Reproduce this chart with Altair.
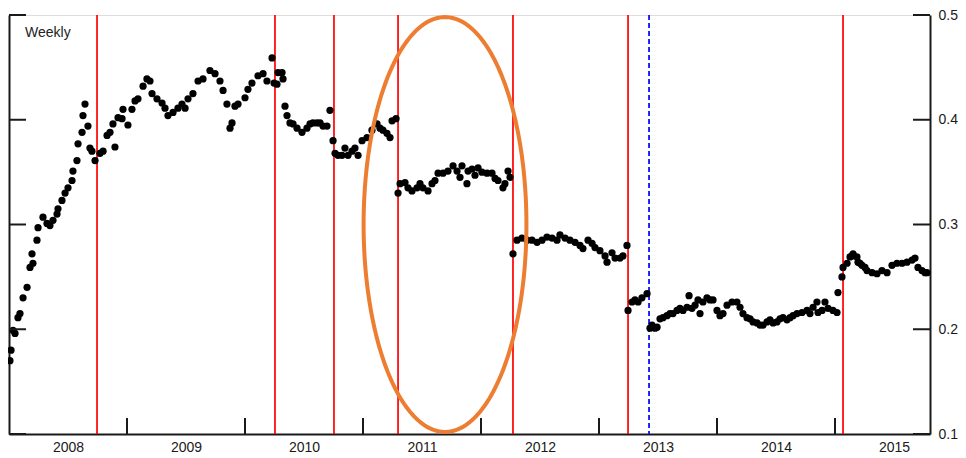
import altair as alt
import numpy as np
import pandas as pd

# ---- data (decimal year, value) ----
years = [
    2008.008, 2008.017, 2008.034, 2008.051, 2008.076, 2008.093, 2008.119, 2008.153, 2008.178, 2008.195,
    2008.203, 2008.237, 2008.246, 2008.288, 2008.322, 2008.347, 2008.373, 2008.407, 2008.415, 2008.449,
    2008.475, 2008.500, 2008.534, 2008.542, 2008.576, 2008.585, 2008.619, 2008.627, 2008.644, 2008.669,
    2008.686, 2008.703, 2008.729,
    2008.771, 2008.797, 2008.831, 2008.856, 2008.881, 2008.898, 2008.924, 2008.958, 2008.966, 2009.008,
    2009.042, 2009.068, 2009.093, 2009.136, 2009.169, 2009.195, 2009.212, 2009.254, 2009.297, 2009.322,
    2009.347, 2009.390, 2009.432, 2009.466, 2009.492, 2009.517, 2009.559, 2009.602, 2009.644, 2009.703,
    2009.746, 2009.788, 2009.814, 2009.847, 2009.873, 2009.890, 2009.915, 2009.941, 2010.000, 2010.025,
    2010.059, 2010.110, 2010.153, 2010.186, 2010.229, 2010.246,
    2010.271, 2010.280, 2010.314, 2010.322, 2010.339, 2010.356, 2010.381, 2010.407, 2010.441, 2010.483,
    2010.525, 2010.551, 2010.576, 2010.610, 2010.636, 2010.661, 2010.695, 2010.720,
    2010.746, 2010.763, 2010.788, 2010.822, 2010.847, 2010.873, 2010.907, 2010.932, 2010.958, 2010.992,
    2011.034, 2011.076, 2011.119, 2011.144, 2011.169, 2011.203, 2011.229, 2011.246, 2011.280,
    2011.297, 2011.314, 2011.356, 2011.381, 2011.415, 2011.458, 2011.483, 2011.508, 2011.551, 2011.585,
    2011.610, 2011.636, 2011.678, 2011.720, 2011.763, 2011.797, 2011.822, 2011.839, 2011.881, 2011.890,
    2011.924, 2011.949, 2011.975, 2012.008, 2012.051, 2012.093, 2012.119, 2012.144, 2012.186, 2012.203,
    2012.229, 2012.246,
    2012.271, 2012.305, 2012.347, 2012.390, 2012.432, 2012.475, 2012.517, 2012.559, 2012.602, 2012.644,
    2012.669, 2012.712, 2012.754, 2012.797, 2012.839, 2012.864, 2012.907, 2012.941, 2012.966, 2013.008,
    2013.051, 2013.068, 2013.110, 2013.136, 2013.178, 2013.203, 2013.237,
    2013.246, 2013.280, 2013.305, 2013.331, 2013.364, 2013.407,
    2013.432, 2013.449, 2013.475, 2013.492, 2013.517, 2013.542, 2013.576, 2013.602, 2013.627, 2013.661,
    2013.686, 2013.712, 2013.746, 2013.763, 2013.788, 2013.814, 2013.839, 2013.856, 2013.881, 2013.915,
    2013.941, 2013.966, 2014.000, 2014.025, 2014.051, 2014.085, 2014.127, 2014.169, 2014.195, 2014.220,
    2014.254, 2014.280, 2014.305, 2014.339, 2014.364, 2014.390, 2014.424, 2014.449, 2014.475, 2014.508,
    2014.534, 2014.559, 2014.593, 2014.619, 2014.644, 2014.678, 2014.720, 2014.763, 2014.788, 2014.814,
    2014.847, 2014.856, 2014.890, 2014.915, 2014.941, 2014.983, 2015.017, 2015.025,
    2015.059, 2015.068, 2015.102, 2015.127, 2015.144, 2015.153, 2015.186, 2015.195, 2015.212, 2015.229,
    2015.254, 2015.271, 2015.314, 2015.356, 2015.398, 2015.441, 2015.483, 2015.525, 2015.568, 2015.610,
    2015.653, 2015.678, 2015.703, 2015.737, 2015.763, 2015.780,
]
values = [
    0.170, 0.180, 0.199, 0.196, 0.211, 0.215, 0.230, 0.240, 0.259, 0.272,
    0.263, 0.285, 0.297, 0.307, 0.301, 0.299, 0.304, 0.310, 0.315, 0.323,
    0.330, 0.335, 0.342, 0.351, 0.361, 0.377, 0.388, 0.404, 0.415, 0.394,
    0.373, 0.370, 0.361,
    0.368, 0.370, 0.385, 0.388, 0.396, 0.374, 0.402, 0.401, 0.410, 0.395,
    0.410, 0.418, 0.420, 0.432, 0.439, 0.437, 0.425, 0.420, 0.416, 0.411,
    0.404, 0.407, 0.411, 0.415, 0.411, 0.420, 0.425, 0.437, 0.439, 0.447,
    0.444, 0.437, 0.428, 0.415, 0.392, 0.397, 0.413, 0.415, 0.421, 0.429,
    0.435, 0.442, 0.444, 0.437, 0.459, 0.435,
    0.434, 0.445, 0.445, 0.439, 0.413, 0.404, 0.397, 0.396, 0.392, 0.388,
    0.392, 0.396, 0.397, 0.397, 0.397, 0.394, 0.394, 0.409,
    0.380, 0.368, 0.366, 0.366, 0.373, 0.366, 0.370, 0.373, 0.366, 0.380,
    0.383, 0.390, 0.396, 0.392, 0.390, 0.387, 0.383, 0.399, 0.401,
    0.330, 0.339, 0.340, 0.335, 0.332, 0.335, 0.339, 0.335, 0.332, 0.339,
    0.342, 0.349, 0.349, 0.351, 0.356, 0.351, 0.345, 0.356, 0.339, 0.351,
    0.353, 0.347, 0.354, 0.350, 0.349, 0.349, 0.344, 0.342, 0.335, 0.339,
    0.351, 0.345,
    0.272, 0.285, 0.287, 0.285, 0.285, 0.283, 0.285, 0.288, 0.287, 0.285,
    0.290, 0.287, 0.285, 0.283, 0.280, 0.277, 0.285, 0.282, 0.278, 0.275,
    0.270, 0.264, 0.273, 0.268, 0.268, 0.270, 0.280,
    0.218, 0.226, 0.228, 0.226, 0.230, 0.234,
    0.201, 0.204, 0.201, 0.202, 0.210, 0.211, 0.213, 0.215, 0.215, 0.218,
    0.220, 0.218, 0.221, 0.232, 0.220, 0.223, 0.228, 0.215, 0.226, 0.230,
    0.228, 0.228, 0.218, 0.213, 0.215, 0.223, 0.226, 0.226, 0.221, 0.215,
    0.211, 0.210, 0.207, 0.206, 0.204, 0.204, 0.207, 0.209, 0.206, 0.207,
    0.210, 0.211, 0.209, 0.211, 0.213, 0.215, 0.216, 0.218, 0.215, 0.221,
    0.226, 0.216, 0.218, 0.226, 0.220, 0.218, 0.216, 0.235,
    0.250, 0.259, 0.263, 0.269, 0.270, 0.272, 0.269, 0.264, 0.263, 0.261,
    0.259, 0.256, 0.254, 0.253, 0.256, 0.254, 0.261, 0.263, 0.263, 0.264,
    0.266, 0.268, 0.259, 0.256, 0.254, 0.254,
]

red_breaks = [2008.746, 2010.254, 2010.754, 2011.297, 2012.271, 2013.246, 2015.068]
blue_breaks = [2013.424]
year_ticks = [2009, 2010, 2011, 2012, 2013, 2014, 2015]
year_label_pos = [2008.5, 2009.5, 2010.5, 2011.5, 2012.5, 2013.5, 2014.5, 2015.5]
y_ticks = [0.1, 0.2, 0.3, 0.4, 0.5]
panel_label = "Weekly"

# ellipse highlight (centre and radii in data units)
ell_cx, ell_cy, ell_rx, ell_ry = 2011.695, 0.300, 0.69, 0.198

X_DOMAIN = [2008.0, 2015.805]
Y_DOMAIN = [0.1, 0.5]
FONT = "Liberation Sans"
INK = "#1a1a1a"
W, H = 921, 419

df = pd.DataFrame({"year": years, "value": values})
t = np.linspace(0, 2 * np.pi, 241)
ell = pd.DataFrame({"year": ell_cx + ell_rx * np.cos(t), "value": ell_cy + ell_ry * np.sin(t), "i": np.arange(len(t))})

xs = alt.Scale(domain=X_DOMAIN, nice=False, zero=False)
ys = alt.Scale(domain=Y_DOMAIN, nice=False, zero=False)

x_axis = alt.Axis(values=year_label_pos, labelExpr="floor(datum.value)", ticks=False, tickSize=0,
                  grid=False, domain=True, domainColor=INK, domainWidth=2, labelFont=FONT,
                  labelFontSize=14, labelColor=INK, labelPadding=6, title=None)

left_axis = alt.Axis(orient="left", values=y_ticks, labels=False, ticks=False, tickSize=0, grid=False,
                     domain=True, domainColor=INK, domainWidth=2, title=None)
right_axis = alt.Axis(orient="right", values=y_ticks, format=".1f", ticks=False, tickSize=0, grid=False,
                      domain=True, domainColor=INK, domainWidth=2, labelFont=FONT, labelFontSize=14,
                      labelColor=INK, labelPadding=8, title=None)

X = alt.X("year:Q", scale=xs, axis=x_axis)

base_left = alt.Chart(df).mark_circle(size=0, opacity=0).encode(
    x=X,
    y=alt.Y("value:Q", scale=ys, axis=left_axis),
)

red = alt.Chart(pd.DataFrame({"year": red_breaks})).mark_rule(color="#ff0000", strokeWidth=1.7).encode(x=X)
blue = alt.Chart(pd.DataFrame({"year": blue_breaks})).mark_rule(
    color="#0000ff", strokeWidth=1.7, strokeDash=[5, 3]
).encode(x=X)

points = alt.Chart(df).mark_circle(size=52, color="black", opacity=1).encode(
    x=X,
    y=alt.Y("value:Q", scale=ys, axis=right_axis),
)

ellipse = alt.Chart(ell).mark_line(color="#ed7d31", strokeWidth=4).encode(
    x=X,
    y=alt.Y("value:Q", scale=ys, axis=None),
    order="i:Q",
)

tick_df = pd.DataFrame({"value": y_ticks})
left_ticks = alt.Chart(tick_df).mark_rule(color=INK, strokeWidth=2).encode(
    y=alt.Y("value:Q", scale=ys, axis=None), x=alt.value(0), x2=alt.value(17)
)
right_ticks = alt.Chart(tick_df).mark_rule(color=INK, strokeWidth=2).encode(
    y=alt.Y("value:Q", scale=ys, axis=None), x=alt.value(W - 17), x2=alt.value(W)
)
bottom_ticks = alt.Chart(pd.DataFrame({"year": year_ticks})).mark_rule(color=INK, strokeWidth=2).encode(
    x=X, y=alt.value(H - 16), y2=alt.value(H)
)

label = alt.Chart(pd.DataFrame({"year": [2008.136], "value": [0.479], "t": [panel_label]})).mark_text(
    align="left", baseline="alphabetic", font=FONT, fontSize=14, color="#222222"
).encode(x=X, y=alt.Y("value:Q", scale=ys, axis=None), text="t:N")

chart = alt.layer(
    base_left, red, blue, points, ellipse, left_ticks, right_ticks, bottom_ticks, label
).resolve_axis(y="independent").properties(
    width=W, height=H,
    autosize=alt.AutoSizeParams(type="none"),
    padding={"left": 1, "top": 7, "right": 28, "bottom": 24},
).configure_view(stroke=None).configure(background="white")

chart.save("out.html", embed_options={"renderer": "svg", "actions": False})
